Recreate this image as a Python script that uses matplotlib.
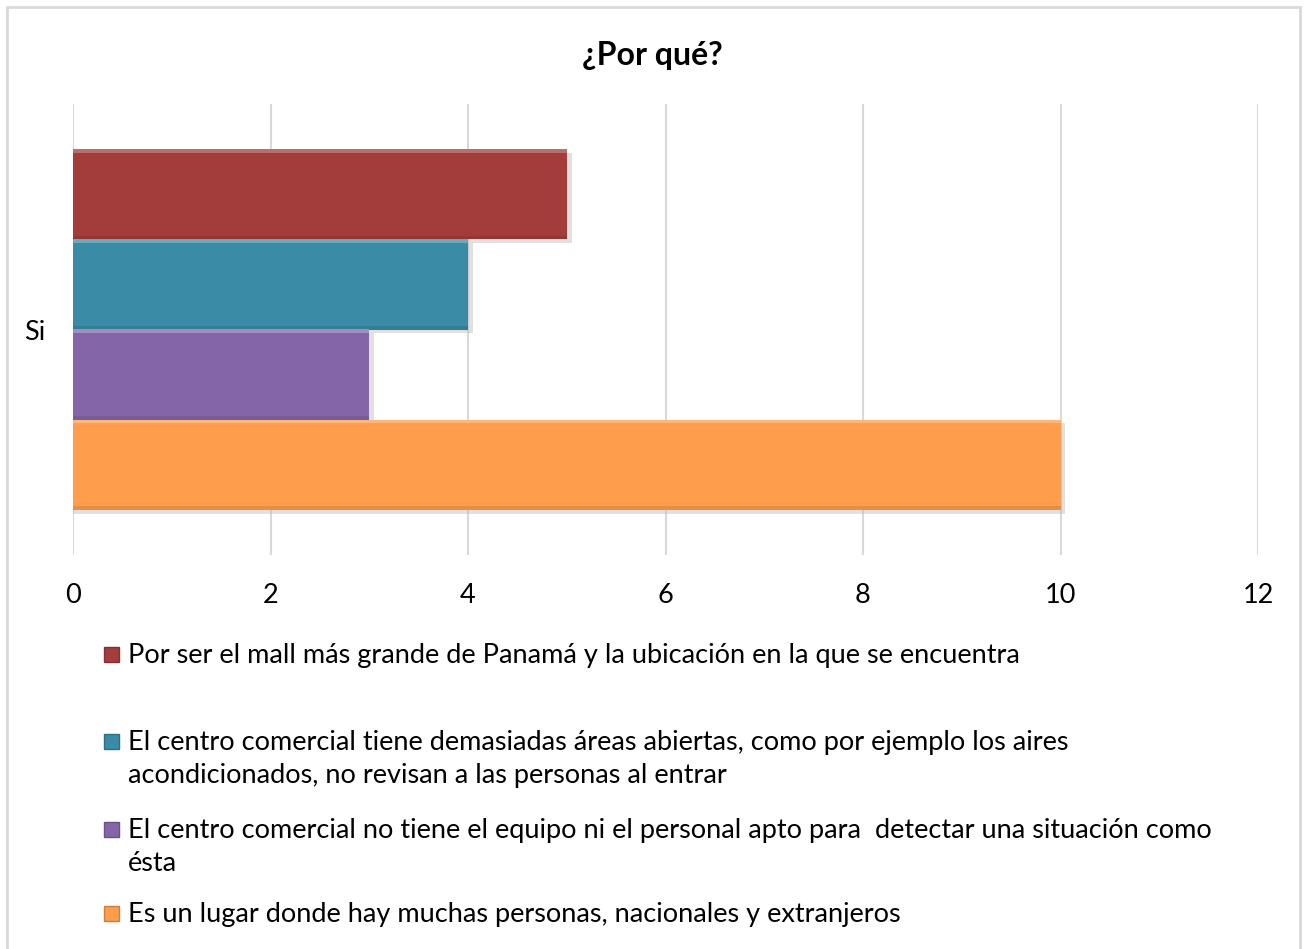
import matplotlib.pyplot as plt
from matplotlib.patches import Rectangle
from matplotlib.colors import to_rgb

plt.rcParams["font.family"] = ["Lato", "DejaVu Sans"]

# data
category = "Si"
series_labels = [
    "Por ser el mall más grande de Panamá y la ubicación en la que se encuentra",
    "El centro comercial tiene demasiadas áreas abiertas, como por ejemplo los aires\nacondicionados, no revisan a las personas al entrar",
    "El centro comercial no tiene el equipo ni el personal apto para  detectar una situación como\nésta",
    "Es un lugar donde hay muchas personas, nacionales y extranjeros",
]
values = [5, 4, 3, 10]
colors = ["#A23D3B", "#3A8CA6", "#8466A8", "#FE9E4C"]
x_ticks = [0, 2, 4, 6, 8, 10, 12]


def shade(c, f):
    r, g, b = to_rgb(c)
    if f > 0:
        return (r + (1 - r) * f, g + (1 - g) * f, b + (1 - b) * f)
    return (r * (1 + f), g * (1 + f), b * (1 + f))


W, H = 1306, 949
fig = plt.figure(figsize=(W / 100, H / 100), dpi=100)

# outer chart border
fig.patches.append(Rectangle((7 / W, -0.01), 1293 / W, 1 - 7 / H + 0.01,
                             transform=fig.transFigure, fill=False,
                             edgecolor="#D9D9D9", linewidth=2))

# plot area: x 73..1258 px, y 104..555 px
ax = fig.add_axes([73 / W, 1 - 555 / H, (1258 - 73) / W, (555 - 104) / H])
ax.set_xlim(0, 12)
ax.set_ylim(0, 1)

bar_h = 0.2
offsets = [0.5 + 1.5 * bar_h, 0.5 + 0.5 * bar_h, 0.5 - 0.5 * bar_h, 0.5 - 1.5 * bar_h]
strip = 0.008
for v, c, off in zip(values, colors, offsets):
    # soft shadow
    ax.barh(off - 0.008, v + 0.05, height=bar_h, color="#BBBBBB", alpha=0.45,
            linewidth=0, zorder=2)
    ax.barh(off, v, height=bar_h, color=c, linewidth=0, zorder=3)
    # bevel: light top edge, dark bottom edge
    ax.barh(off + bar_h / 2 - strip / 2, v, height=strip, color=shade(c, 0.25),
            linewidth=0, zorder=4)
    ax.barh(off - bar_h / 2 + strip / 2, v, height=strip, color=shade(c, -0.1),
            linewidth=0, zorder=4)

ax.set_xticks(x_ticks)
ax.xaxis.grid(True, color="#D9D9D9", linewidth=1.5, zorder=0)
ax.tick_params(axis="x", length=0, labelsize=19.5, pad=20, colors="black")
ax.set_yticks([0.5])
ax.set_yticklabels([category], fontsize=19.5)
ax.tick_params(axis="y", length=0, pad=20)
for s in ax.spines.values():
    s.set_visible(False)

fig.text(652 / W, 1 - 55 / H, "¿Por qué?", ha="center", va="center",
         fontsize=23, fontweight="bold")

# legend drawn by hand to follow the reference spacing
leg_y = [654, 741, 829, 913]
for lab, c, y in zip(series_labels, colors, leg_y):
    fig.patches.append(Rectangle((104 / W, 1 - (y + 8) / H), 15 / W, 15 / H,
                                 transform=fig.transFigure, facecolor=c,
                                 edgecolor=shade(c, -0.2)))
    fig.text(128 / W, 1 - (y - 11) / H, lab, ha="left", va="top",
             fontsize=19.5, linespacing=1.38)

fig.savefig("out.png", dpi=100)
